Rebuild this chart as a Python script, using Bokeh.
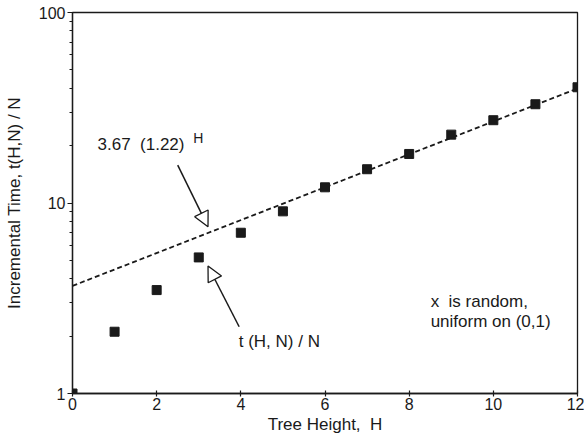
from bokeh.plotting import figure
from bokeh.models import (Range1d, FixedTicker, BasicTickFormatter, Label, Arrow,
                          NormalHead, ColumnDataSource)
from bokeh.embed import file_html
from bokeh.resources import INLINE

# data
heights = [0, 1, 2, 3, 4, 5, 6, 7, 8, 9, 10, 11, 12]
time_per_n = [1.0, 2.11, 3.49, 5.18, 6.98, 9.04, 12.09, 15.04, 18.09, 22.85, 27.2, 33.0, 40.5]
fit_h = [0, 12]
fit_t = [3.67, 39.9]
x_ticks = [0, 2, 4, 6, 8, 10, 12]
y_ticks = [1, 10, 100]
y_minor = [2, 3, 4, 5, 6, 7, 8, 9, 20, 30, 40, 50, 60, 70, 80, 90]

FONT = "Liberation Sans"
INK = "#1a1a1a"
NB = "\u00a0"

p = figure(width=584, height=440, y_axis_type="log", output_backend="svg",
           toolbar_location=None,
           x_range=Range1d(0, 12), y_range=Range1d(1, 100),
           min_border_left=72, min_border_right=7, min_border_top=12, min_border_bottom=47)
p.background_fill_color = "white"
p.border_fill_color = "white"
p.outline_line_color = INK
p.outline_line_width = 1.3
p.grid.visible = False

src = ColumnDataSource(dict(h=heights, t=time_per_n))
p.line(fit_h, fit_t, line_color=INK, line_width=1.8, line_dash="5 3")
p.scatter("h", "t", source=src, marker="square", size=9, fill_color=INK, line_color=INK)

# axes
xa = p.xaxis[0]
xa.ticker = FixedTicker(ticks=x_ticks)
xa.axis_label = "Tree Height," + NB + NB + "H"
xa.major_tick_in = 3
xa.major_tick_out = 3
xa.minor_tick_in = 0
xa.minor_tick_out = 0
xa.major_label_standoff = 1
xa.axis_label_standoff = 2

ya = p.yaxis[0]
ya.ticker = FixedTicker(ticks=y_ticks, minor_ticks=y_minor)
ya.formatter = BasicTickFormatter()
ya.axis_label = "Incremental Time, t(H,N) / N"
ya.major_tick_in = 0
ya.major_tick_out = 5
ya.minor_tick_in = 0
ya.minor_tick_out = 3
ya.major_label_standoff = 2
ya.axis_label_standoff = 12

for ax in (xa, ya):
    ax.axis_line_color = INK
    ax.axis_line_width = 1.3
    ax.major_tick_line_color = INK
    ax.minor_tick_line_color = INK
    ax.major_tick_line_width = 1.2
    ax.minor_tick_line_width = 1.2
    ax.major_label_text_font = FONT
    ax.major_label_text_font_size = "16px"
    ax.major_label_text_color = INK
    ax.axis_label_text_font = FONT
    ax.axis_label_text_font_size = "17px"
    ax.axis_label_text_font_style = "normal"
    ax.axis_label_text_color = INK

# annotations
def lab(x, y, text, size="17px"):
    p.add_layout(Label(x=x, y=y, text=text, text_font=FONT, text_font_size=size,
                       text_color=INK, text_baseline="alphabetic", text_align="left"))

lab(0.595, 20.3, "3.67" + NB + NB + "(1.22)")
lab(2.87, 22.0, "H", size="14px")
lab(3.95, 1.88, "t (H, N) / N")
lab(8.51, 3.03, "x" + NB + NB + "is random,")
lab(8.51, 2.38, "uniform on (0,1)")

for (x0, y0, x1, y1) in [(2.50, 15.8, 3.22, 7.5), (3.96, 2.24, 3.22, 4.67)]:
    p.add_layout(Arrow(end=NormalHead(size=15, fill_color="white", line_color=INK, line_width=1.3),
                       x_start=x0, y_start=y0, x_end=x1, y_end=y1,
                       line_color=INK, line_width=1.5))

open("out.html", "w").write(file_html(p, INLINE))
